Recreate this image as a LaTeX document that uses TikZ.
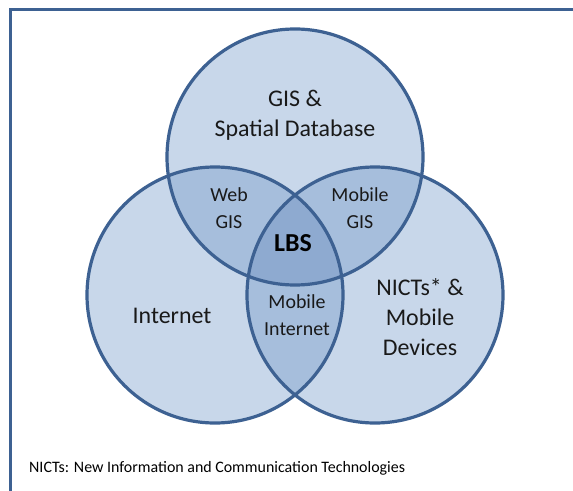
\documentclass[tikz,border=0pt]{standalone}
\usepackage{fontspec}
\setmainfont{Carlito}
\definecolor{edge}{HTML}{3D6192}
\definecolor{fillA}{HTML}{C8D7EA}
\definecolor{fillB}{HTML}{A6BEDC}
\definecolor{fillC}{HTML}{8EAAD0}
\begin{document}
\begin{tikzpicture}[x=1bp,y=-1bp,
  setcircle/.style={circle,minimum size=256bp,inner sep=0pt},
  bigtxt/.style={font=\fontsize{24}{30}\selectfont,align=center,text=black!90},
  midtxt/.style={font=\fontsize{20}{27}\selectfont,align=center,text=black!90},
  lbstxt/.style={font=\fontsize{26}{30}\selectfont\bfseries,align=center},
  foot/.style={font=\fontsize{16}{20}\selectfont,anchor=west,inner sep=0pt}]
\useasboundingbox (0,0) rectangle (573,491);
\fill[white] (0,0) rectangle (573,491);
% frame
\draw[edge,line width=3bp] (10,495) -- (10,10) -- (580,10);
% circles
\def\cT{(295,157) circle[radius=128]}
\def\cL{(215,295) circle[radius=128]}
\def\cR{(375,295) circle[radius=128]}
\fill[fillA] \cT; \fill[fillA] \cL; \fill[fillA] \cR;
\begin{scope}\clip \cT; \fill[fillB] \cL; \fill[fillB] \cR;\end{scope}
\begin{scope}\clip \cL; \fill[fillB] \cR;\end{scope}
\begin{scope}\clip \cT; \clip \cL; \fill[fillC] \cR;\end{scope}
\node[setcircle,draw=edge,line width=3.2bp] (top) at (295,157) {};
\node[setcircle,draw=edge,line width=3.2bp] (left) at (215,295) {};
\node[setcircle,draw=edge,line width=3.2bp] (right) at (375,295) {};
% labels
\node[bigtxt] (gis) at (295,115) {GIS \&\\Spatial Database};
\node[midtxt] (web) at (229,208) {Web\\GIS};
\node[midtxt] (mgis) at (360,208) {Mobile\\GIS};
\node[lbstxt] (lbs) at (293,243) {LBS};
\node[bigtxt] (inet) at (172,316) {Internet};
\node[bigtxt] (nicts) at (420,317) {NICTs* \&\\Mobile\\Devices};
\node[midtxt] (minet) at (297,315) {Mobile\\Internet};
\node[foot] (note) at (29,468) {NICTs: New Information and Communication Technologies};
\end{tikzpicture}
\end{document}
